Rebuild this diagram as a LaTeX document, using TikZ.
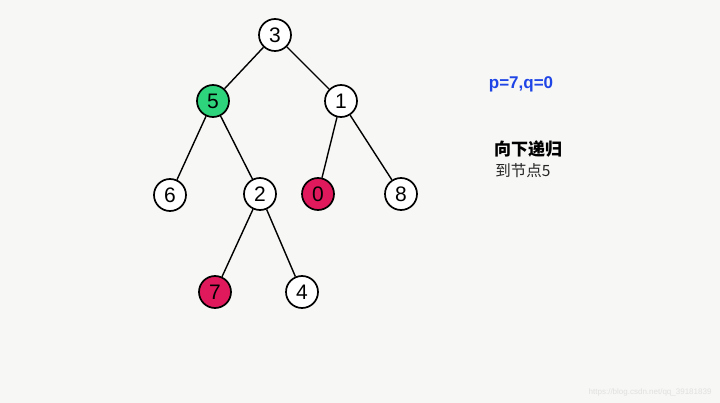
\documentclass[tikz,border=0pt]{standalone}
\usepackage{fontspec}
\setmainfont{Liberation Sans}
\newfontfamily\cjk{Noto Sans CJK SC}
\definecolor{paper}{HTML}{F7F7F5}
\definecolor{hitgreen}{HTML}{2DD47C}
\definecolor{target}{HTML}{E0185C}
\definecolor{pqblue}{HTML}{1F45E6}
\begin{document}
\begin{tikzpicture}[x=1pt, y=-1pt,
		tnode/.style={circle, draw, line width=1.7pt, minimum size=32pt, inner sep=0pt, font=\fontsize{21}{21}\selectfont, fill=white},
		edge/.style={line width=1.4pt}]
		\fill[paper] (0,0) rectangle (720,403);
		\node[tnode] (n3) at (275,35) {3};
		\node[tnode, fill=hitgreen] (n5) at (213,101) {5};
		\node[tnode] (n1) at (341,101) {1};
		\node[tnode] (n6) at (170,195) {6};
		\node[tnode] (n2) at (260,194) {2};
		\node[tnode, fill=target] (n0) at (318,194) {0};
		\node[tnode] (n8) at (401,194) {8};
		\node[tnode, fill=target] (n7) at (215,292) {7};
		\node[tnode] (n4) at (302,292) {4};
		\foreach \a/\b in {n3/n5, n3/n1, n5/n6, n5/n2, n1/n0, n1/n8, n2/n7, n2/n4}{
			\draw[edge] (\a) -- (\b);
		}
		\node[text=pqblue, font=\bfseries\fontsize{17}{17}\selectfont] (pq) at (521,84) {p=7,q=0};
		\node[font=\cjk\bfseries\fontsize{17}{17}\selectfont] (step1) at (528,149) {向下递归};
		\node[font=\cjk\fontsize{15.5}{15.5}\selectfont, text=black!85] (step2) at (523,171) {到节点5};
		\node[text=black!12, font=\fontsize{8}{8}\selectfont, anchor=east] (mark) at (715,392) {https://blog.csdn.net/qq\_39181839};
\end{tikzpicture}
\end{document}
